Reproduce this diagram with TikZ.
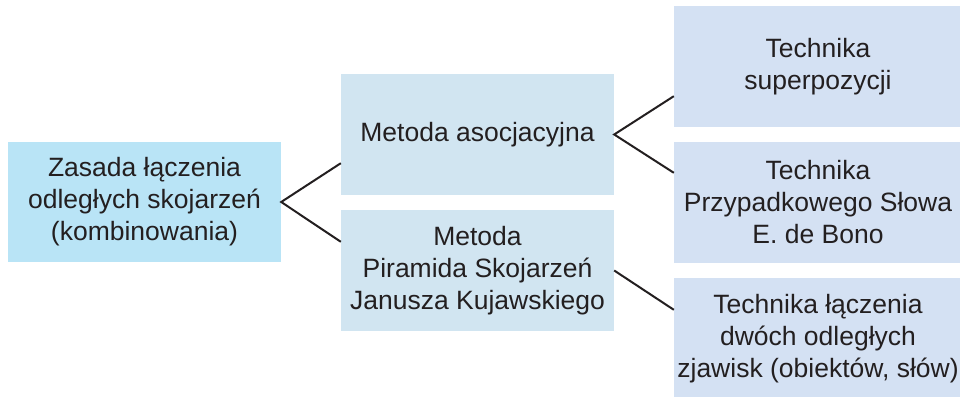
\documentclass[tikz,border=0pt]{standalone}
\usepackage{fontspec}
\setmainfont{Liberation Sans}
\usetikzlibrary{positioning,calc}
\definecolor{zasadacol}{RGB}{185,228,246}
\definecolor{metodacol}{RGB}{209,229,241}
\definecolor{technikacol}{RGB}{212,225,243}
\definecolor{inkcol}{RGB}{35,31,32}

\begin{document}
\begin{tikzpicture}[x=1pt,y=1pt,
    box/.style={inner sep=0pt, align=center, text=inkcol,
        font=\fontsize{26.5}{32}\selectfont, minimum height=121pt},
    link/.style={draw=inkcol, line width=2pt}]
    % Frame
    \useasboundingbox (0,0) rectangle (960,396);

    % Principle
    \node[box, fill=zasadacol, minimum width=273pt, minimum height=120pt] (zasada) at (144.5,194)
        {Zasada łączenia\\odległych skojarzeń\\(kombinowania)};

    % Methods
    \node[box, fill=metodacol, minimum width=273pt] (asoc) at (477.5,261.5) {Metoda asocjacyjna};
    \node[box, fill=metodacol, minimum width=273pt] (piram) at (477.5,125.5)
        {Metoda\\Piramida Skojarzeń\\Janusza Kujawskiego};

    % Techniques
    \node[box, fill=technikacol, minimum width=288pt] (superpoz) at (818,329.5) {Technika\\superpozycji};
    \node[box, fill=technikacol, minimum width=288pt] (slowa) at (818,193.5)
        {Technika\\Przypadkowego Słowa\\E. de Bono};
    \node[box, fill=technikacol, minimum width=288pt] (zjawisk) at (818,57.5)
        {Technika łączenia\\dwóch odległych\\zjawisk (obiektów, słów)};

    % Links
    \draw[link] ([yshift=32pt]asoc.south west) -- (zasada.east) -- ([yshift=-32pt]piram.north west);
    \draw[link] ([yshift=31pt]superpoz.south west) -- (asoc.east) -- ([yshift=-31pt]slowa.north west);
    \draw[link] (piram.east) -- ([yshift=-32pt]zjawisk.north west);
\end{tikzpicture}
\end{document}
